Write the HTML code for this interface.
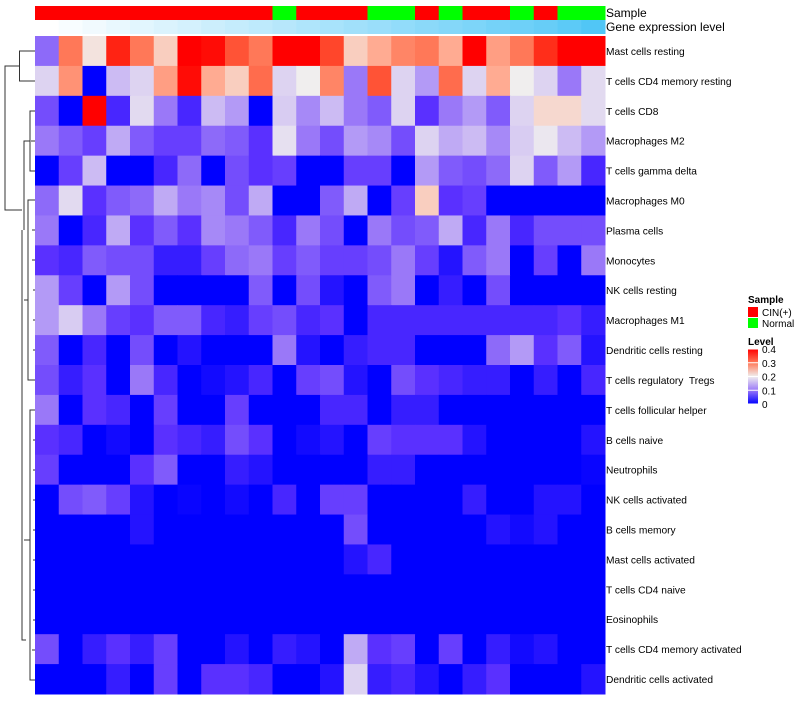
<!DOCTYPE html>
<html><head><meta charset="utf-8">
<style>
body{margin:0;background:#fff;width:800px;height:700px;overflow:hidden;font-family:"Liberation Sans",sans-serif;}
svg text{font-family:"Liberation Sans",sans-serif;white-space:pre;}
</style></head>
<body>
<svg id="chart" width="800" height="700">
<g id="dendro" stroke="#333" stroke-width="1" fill="none">
<path d="M35,51H19.5V81H35"/>
<path d="M19.5,66H5V210H22"/>
<path d="M35,111H30V171H35M35,141H31M30,141H24V230"/>
<path d="M22,230V640H26"/>
<path d="M35,200H28V380H35M35,230H32M35,260H32M35,290H33M35,320H33M35,350H33"/>
<path d="M28,300H24"/>
<path d="M35,410H30V680H35M35,440H33M35,470H33M35,500H33M35,530H33M35,560H33M35,590H33M35,620H33M35,650H32"/>
<path d="M30,540H24"/>
</g>
<g id="cells"></g>
<g id="annot"></g>
<g id="labels" font-size="10.2" fill="#000"></g>
<text x="606" y="17" font-size="12">Sample</text>
<text x="606" y="31" font-size="12">Gene expression level</text>
<g font-size="10">
<text x="748" y="303" font-weight="bold">Sample</text>
<rect x="748" y="307" width="10" height="10" fill="#ff0000"/>
<text x="762" y="316">CIN(+)</text>
<rect x="748" y="318" width="10" height="10" fill="#00ff00"/>
<text x="762" y="327">Normal</text>
<text x="748" y="345" font-weight="bold">Level</text>
<defs><linearGradient id="lg" x1="0" y1="1" x2="0" y2="0">
<stop offset="0" stop-color="#0000ff"/><stop offset="0.25" stop-color="#9a78f8"/><stop offset="0.5" stop-color="#f0eeee"/><stop offset="0.75" stop-color="#ff7858"/><stop offset="1" stop-color="#ff0000"/></linearGradient></defs>
<rect x="748" y="349" width="10" height="55" fill="url(#lg)"/>
<g id="lticks"></g>
</g>
</svg>
<script>
const rowNames=["Mast cells resting","T cells CD4 memory resting","T cells CD8","Macrophages M2","T cells gamma delta","Macrophages M0","Plasma cells","Monocytes","NK cells resting","Macrophages M1","Dendritic cells resting","T cells regulatory  Tregs","T cells follicular helper","B cells naive","Neutrophils","NK cells activated","B cells memory","Mast cells activated","T cells CD4 naive","Eosinophils","T cells CD4 memory activated","Dendritic cells activated"];
const sampleGroups=["CIN","CIN","CIN","CIN","CIN","CIN","CIN","CIN","CIN","CIN","Normal","CIN","CIN","CIN","Normal","Normal","CIN","Normal","CIN","CIN","Normal","CIN","Normal","Normal"];
const exprLevel=[0,0.04,0.08,0.12,0.16,0.2,0.24,0.28,0.32,0.36,0.4,0.44,0.48,0.52,0.56,0.6,0.64,0.68,0.72,0.76,0.8,0.84,0.9,0.96];
const legendTicks=[0,0.1,0.2,0.3,0.4];
const r0=[0.09,0.3,0.21,0.37,0.3,0.23,0.4,0.39,0.33,0.3,0.4,0.4,0.34,0.23,0.26,0.29,0.3,0.26,0.4,0.27,0.3,0.36,0.4,0.4];
const r1=[0.16,0.28,0,0.14,0.16,0.27,0.39,0.26,0.23,0.31,0.16,0.2,0.29,0.1,0.33,0.16,0.12,0.31,0.16,0.26,0.2,0.16,0.1,0.17];
const r2=[0.07,0,0.4,0.04,0.17,0.1,0.04,0.14,0.12,0,0.15,0.11,0.14,0.1,0.08,0.16,0.05,0.1,0.12,0.08,0.16,0.22,0.22,0.17];
const r3=[0.1,0.08,0.06,0.13,0.08,0.06,0.06,0.09,0.08,0.05,0.18,0.1,0.07,0.12,0.11,0.07,0.16,0.13,0.14,0.11,0.15,0.19,0.14,0.12];
const r4=[0,0.06,0.14,0,0,0.04,0.09,0,0.07,0.05,0.06,0,0,0.06,0.06,0,0.12,0.08,0.07,0.09,0.16,0.08,0.12,0.04];
const r5=[0.09,0.17,0.05,0.08,0.09,0.13,0.1,0.11,0.07,0.13,0,0,0.08,0.13,0,0.06,0.23,0.05,0.06,0,0,0,0,0];
const r6=[0.1,0,0.04,0.13,0.05,0.08,0.05,0.11,0.1,0.08,0.04,0.1,0.07,0,0.1,0.07,0.08,0.13,0.04,0.1,0.04,0.07,0.07,0.07];
const r7=[0.05,0.04,0.08,0.07,0.07,0.03,0.03,0.06,0.09,0.1,0.06,0.08,0.06,0.06,0.07,0.1,0.06,0.02,0.08,0.1,0,0.06,0,0.1];
const r8=[0.12,0.06,0,0.12,0.07,0,0,0,0,0.08,0,0.07,0.02,0,0.08,0.1,0,0.03,0,0.07,0,0,0,0];
const r9=[0.12,0.15,0.1,0.06,0.05,0.08,0.08,0.04,0.03,0.06,0.07,0.04,0.05,0,0.04,0.04,0.04,0.04,0.04,0.04,0.04,0.04,0.05,0.03];
const r10=[0.08,0,0.04,0,0.07,0,0.02,0,0,0,0.1,0.02,0,0.03,0.04,0.04,0,0,0,0.09,0.12,0.05,0.08,0.02];
const r11=[0.07,0.03,0.05,0,0.1,0.04,0,0.01,0.02,0.04,0,0.06,0.07,0.02,0,0.07,0.05,0.04,0.03,0.03,0,0.03,0,0.04];
const r12=[0.1,0,0.05,0.04,0,0.06,0,0,0.06,0,0,0,0.04,0.04,0,0.03,0.03,0,0,0,0,0,0,0];
const r13=[0.05,0.04,0,0.01,0,0.05,0.04,0.03,0.07,0.05,0,0.01,0.02,0,0.06,0.05,0.05,0.05,0.02,0,0,0,0,0.02];
const r14=[0.06,0,0,0,0.05,0.08,0,0,0.03,0.02,0,0,0,0,0.03,0.03,0,0,0,0,0,0,0,0.005];
const r15=[0,0.07,0.08,0.06,0.02,0,0.005,0,0.01,0,0.04,0,0.06,0.06,0,0,0,0,0.03,0,0,0.02,0.02,0];
const r16=[0,0,0,0,0.02,0,0,0,0,0,0,0,0,0.07,0,0,0,0,0,0.02,0.01,0.02,0,0];
const r17=[0,0,0,0,0,0,0,0,0,0,0,0,0,0.02,0.04,0,0,0,0,0,0,0,0,0];
const r18=[0,0,0,0,0,0,0,0,0,0,0,0,0,0,0,0,0,0,0,0,0,0,0,0];
const r19=[0,0,0,0,0,0,0,0,0,0,0,0,0,0,0,0,0,0,0,0,0,0,0,0];
const r20=[0.07,0,0.03,0.05,0.03,0.06,0,0,0.02,0,0.03,0.02,0,0.13,0.05,0.06,0,0.06,0,0.03,0.01,0.02,0,0];
const r21=[0,0,0,0.03,0,0.06,0,0.05,0.05,0.04,0,0,0.02,0.16,0.03,0.04,0.02,0,0.03,0.05,0,0,0,0.02];
const values=[r0,r1,r2,r3,r4,r5,r6,r7,r8,r9,r10,r11,r12,r13,r14,r15,r16,r17,r18,r19,r20,r21];

const X0=35,X1=605,Y0=36,Y1=694;
const nC=24,nR=rowNames.length;
const cw=(X1-X0)/nC, rh=(Y1-Y0)/nR;
const xPos=i=>X0+i*cw, yPos=j=>Y0+j*rh;
const stops=[[0,[0,0,255]],[0.05,[90,48,255]],[0.1,[154,120,248]],[0.15,[216,204,242]],[0.2,[240,238,238]],[0.25,[255,184,160]],[0.3,[255,120,88]],[0.35,[255,58,32]],[0.4,[255,0,0]]];
function col(v){v=Math.max(0,Math.min(0.4,v));for(let k=0;k<stops.length-1;k++){const a=stops[k],b=stops[k+1];if(v<=b[0]){const t=(v-a[0])/(b[0]-a[0]);return 'rgb('+a[1].map((c,i)=>Math.round(c+(b[1][i]-c)*t)).join(',')+')';}}return 'rgb(255,0,0)';}
const NS='http://www.w3.org/2000/svg';
const cells=document.getElementById('cells');
values.forEach((row,j)=>row.forEach((v,i)=>{
 const r=document.createElementNS(NS,'rect');
 r.setAttribute('x',xPos(i));r.setAttribute('y',yPos(j));
 r.setAttribute('width',cw+0.5);r.setAttribute('height',rh+0.5);
 r.setAttribute('fill',col(v));
 
 
 cells.appendChild(r);
}));
const annot=document.getElementById('annot');
sampleGroups.forEach((g,i)=>{
 const r=document.createElementNS(NS,'rect');
 r.setAttribute('x',xPos(i));r.setAttribute('y',6);r.setAttribute('width',cw+0.5);r.setAttribute('height',14);
 r.setAttribute('fill',g==='CIN'?'#ff0000':'#00ff00');
 
 
 annot.appendChild(r);
});
exprLevel.forEach((v,i)=>{
 const r=document.createElementNS(NS,'rect');
 r.setAttribute('x',xPos(i));r.setAttribute('y',20);r.setAttribute('width',cw+0.5);r.setAttribute('height',14);
 const c0=[255,255,255],c1=[74,196,246];
 r.setAttribute('fill','rgb('+c0.map((c,k)=>Math.round(c+(c1[k]-c)*v)).join(',')+')');
 
 
 annot.appendChild(r);
});
const labels=document.getElementById('labels');
rowNames.forEach((n,j)=>{
 const t=document.createElementNS(NS,'text');
 t.setAttribute('x',606);t.setAttribute('y',yPos(j)+rh/2+4);
 t.textContent=n;
 
 
 labels.appendChild(t);
});
const lt=document.getElementById('lticks');
legendTicks.forEach(v=>{
 const y=404-v/0.4*55;
 const t=document.createElementNS(NS,'text');
 t.setAttribute('x',762);t.setAttribute('y',y+4);t.setAttribute('font-size','10');
 t.textContent=v===0?'0':String(v);
 
 
 lt.appendChild(t);
 const l=document.createElementNS(NS,'line');
 l.setAttribute('x1',748);l.setAttribute('x2',758);l.setAttribute('y1',y);l.setAttribute('y2',y);l.setAttribute('stroke','#fff');
 
 
 lt.appendChild(l);
});
</script>
</body></html>
